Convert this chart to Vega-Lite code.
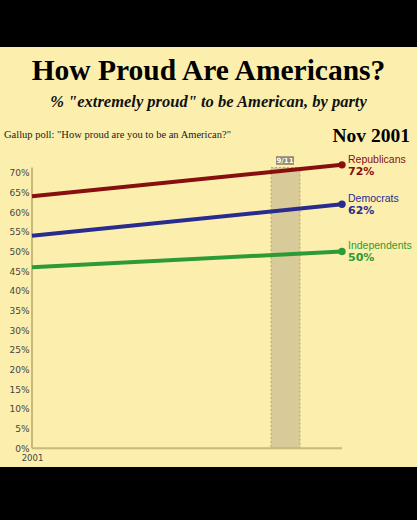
{
  "$schema": "https://vega.github.io/schema/vega-lite/v6.json",
  "width": 417,
  "height": 420,
  "autosize": {"type": "none"},
  "padding": {"top": 47, "bottom": 53, "left": 0, "right": 0},
  "background": "#000000",
  "config": {
    "view": {"fill": "#fcefad", "stroke": null},
    "text": {"font": "DejaVu Sans"},
    "axis": {"labelOverlap": false, "ticks": false, "domain": false, "grid": false, "title": null, "labelFont": "DejaVu Sans", "labelColor": "#444444"},
    "axisY": {"labelFontSize": 9, "labelPadding": 3, "offset": -32},
    "axisX": {"labelFontSize": 8.5, "labelPadding": 4, "offset": -17.5}
  },
  "title": {
    "text": "How Proud Are Americans?",
    "subtitle": "% \"extremely proud\" to be American, by party",
    "font": "Liberation Serif",
    "fontSize": 29.5,
    "fontWeight": "bold",
    "color": "#000000",
    "subtitleFont": "Liberation Serif",
    "subtitleFontSize": 16.5,
    "subtitleFontStyle": "italic",
    "subtitleFontWeight": "bold",
    "subtitleColor": "#111111",
    "subtitlePadding": 7,
    "anchor": "middle",
    "frame": "group",
    "offset": -64
  },
  "datasets": {
    "series": [
      {"party": "Republicans", "day": 0, "pct": 64},
      {"party": "Republicans", "day": 310, "pct": 72},
      {"party": "Democrats", "day": 0, "pct": 54},
      {"party": "Democrats", "day": 310, "pct": 62},
      {"party": "Independents", "day": 0, "pct": 46},
      {"party": "Independents", "day": 310, "pct": 50}
    ],
    "band": [{"event": "9/11", "start": 239, "end": 268, "mid": 253, "labelStart": 244, "labelEnd": 262}],
    "notes": [
      {"text": "Gallup poll: \"How proud are you to be an American?\"", "day": -28, "pct": 78.9, "kind": "source"},
      {"text": "Nov 2001", "day": 378, "pct": 77.9, "kind": "date"}
    ]
  },
  "resolve": {"axis": {"x": "shared", "y": "shared"}},
  "encoding": {
    "x": {"type": "quantitative", "scale": {"domain": [-32, 385], "nice": false, "zero": false}, "axis": {"values": [0], "labelExpr": "'2001'", "orient": "bottom", "labelOverlap": false}},
    "y": {"type": "quantitative", "scale": {"domain": [-4.75, 101.93], "nice": false, "zero": false}, "axis": {"values": [0, 5, 10, 15, 20, 25, 30, 35, 40, 45, 50, 55, 60, 65, 70], "labelExpr": "datum.value + '%'", "orient": "left", "labelOverlap": false}}
  },
  "layer": [
    {
      "data": {"name": "band"},
      "mark": {"type": "rect", "fill": "#d8ca99", "stroke": "#b6a875", "strokeWidth": 1, "strokeDash": [2, 2]},
      "encoding": {
        "x": {"field": "start", "type": "quantitative"},
        "x2": {"field": "end"},
        "y": {"datum": 0, "type": "quantitative"},
        "y2": {"datum": 71.3}
      }
    },
    {
      "data": {"name": "band"},
      "mark": {"type": "rect", "fill": "#958c69"},
      "encoding": {
        "x": {"field": "labelStart", "type": "quantitative"},
        "x2": {"field": "labelEnd"},
        "y": {"datum": 72.0, "type": "quantitative"},
        "y2": {"datum": 74.2}
      }
    },
    {
      "data": {"name": "band"},
      "mark": {"type": "text", "color": "#ffffff", "fontWeight": "bold", "fontSize": 7, "align": "center", "baseline": "middle"},
      "encoding": {
        "x": {"field": "mid", "type": "quantitative"},
        "y": {"datum": 73.1, "type": "quantitative"},
        "text": {"field": "event"}
      }
    },
    {
      "data": {"values": [{"from": 0, "to": 71.3}]},
      "mark": {"type": "rule", "color": "#c6b97e", "strokeWidth": 2},
      "encoding": {
        "x": {"datum": 0, "type": "quantitative"},
        "y": {"field": "from", "type": "quantitative"},
        "y2": {"field": "to"}
      }
    },
    {
      "data": {"values": [{"from": 0, "to": 310}]},
      "mark": {"type": "rule", "color": "#c6b97e", "strokeWidth": 2},
      "encoding": {
        "y": {"datum": 0, "type": "quantitative"},
        "x": {"field": "from", "type": "quantitative"},
        "x2": {"field": "to"}
      }
    },
    {
      "data": {"name": "series"},
      "mark": {"type": "line", "strokeWidth": 4},
      "encoding": {
        "x": {"field": "day", "type": "quantitative"},
        "y": {"field": "pct", "type": "quantitative"},
        "color": {"field": "party", "type": "nominal", "scale": {"domain": ["Republicans", "Democrats", "Independents"], "range": ["#870f0f", "#282c8e", "#2c9a35"]}, "legend": null}
      }
    },
    {
      "data": {"name": "series"},
      "transform": [{"filter": "datum.day == 310"}],
      "mark": {"type": "point", "filled": true, "opacity": 1, "size": 55},
      "encoding": {
        "x": {"field": "day", "type": "quantitative"},
        "y": {"field": "pct", "type": "quantitative"},
        "color": {"field": "party", "type": "nominal", "legend": null}
      }
    },
    {
      "data": {"name": "series"},
      "transform": [{"filter": "datum.day == 310"}],
      "mark": {"type": "text", "align": "left", "baseline": "alphabetic", "dx": 6, "dy": -2, "font": "Liberation Sans", "fontSize": 10.5},
      "encoding": {
        "x": {"field": "day", "type": "quantitative"},
        "y": {"field": "pct", "type": "quantitative"},
        "text": {"field": "party"},
        "color": {"field": "party", "type": "nominal", "legend": null}
      }
    },
    {
      "data": {"name": "series"},
      "transform": [{"filter": "datum.day == 310"}, {"calculate": "datum.pct + '%'", "as": "label"}],
      "mark": {"type": "text", "align": "left", "baseline": "alphabetic", "dx": 6, "dy": 10, "fontSize": 11, "fontWeight": "bold"},
      "encoding": {
        "x": {"field": "day", "type": "quantitative"},
        "y": {"field": "pct", "type": "quantitative"},
        "text": {"field": "label"},
        "color": {"field": "party", "type": "nominal", "legend": null}
      }
    },
    {
      "data": {"name": "notes"},
      "transform": [{"filter": "datum.kind == 'source'"}],
      "mark": {"type": "text", "align": "left", "baseline": "alphabetic", "font": "Liberation Serif", "fontSize": 10.5, "color": "#1a1a1a"},
      "encoding": {
        "x": {"field": "day", "type": "quantitative"},
        "y": {"field": "pct", "type": "quantitative"},
        "text": {"field": "text"}
      }
    },
    {
      "data": {"name": "notes"},
      "transform": [{"filter": "datum.kind == 'date'"}],
      "mark": {"type": "text", "align": "right", "baseline": "alphabetic", "font": "Liberation Serif", "fontSize": 19.5, "fontWeight": "bold", "color": "#000000"},
      "encoding": {
        "x": {"field": "day", "type": "quantitative"},
        "y": {"field": "pct", "type": "quantitative"},
        "text": {"field": "text"}
      }
    }
  ]
}
